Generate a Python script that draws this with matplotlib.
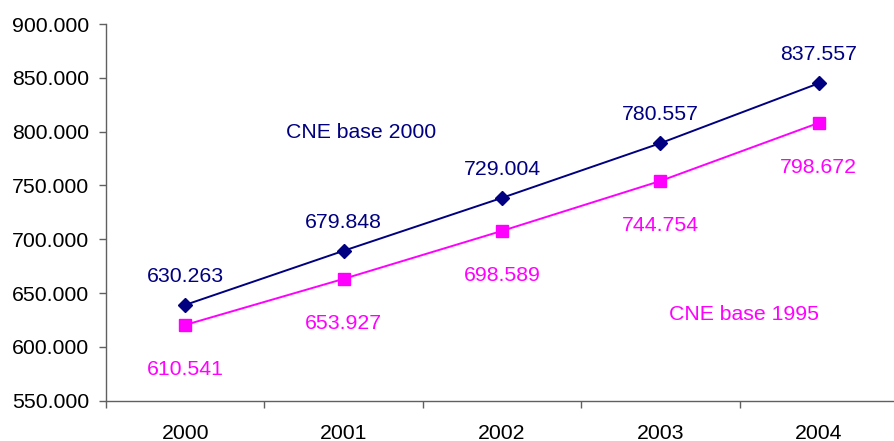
import matplotlib.pyplot as plt
from matplotlib.ticker import FixedLocator, FormatStrFormatter

# --- data ---
years = ['2000', '2001', '2002', '2003', '2004']
# plotted positions
cne_2000 = [639.0, 689.3, 738.5, 789.3, 845.0]
cne_1995 = [620.4, 663.2, 707.8, 754.2, 808.2]
# values printed as data labels
labels_2000 = ['630.263', '679.848', '729.004', '780.557', '837.557']
labels_1995 = ['610.541', '653.927', '698.589', '744.754', '798.672']

navy = '#000080'
magenta = '#FF00FF'
fs = 15.3

plt.rcParams['font.family'] = ['Liberation Sans', 'DejaVu Sans']

fig = plt.figure(figsize=(8.95, 4.41), dpi=100)
ax = fig.add_axes([0.1184, 0.0914, 0.885, 0.854])

x = list(range(len(years)))
ax.plot(x, cne_2000, color=navy, lw=1.4, marker='D', ms=7.5, zorder=3, clip_on=False)
ax.plot(x, cne_1995, color=magenta, lw=1.4, marker='s', ms=9, zorder=3, clip_on=False)

for xi, yi, t in zip(x, cne_2000, labels_2000):
    ax.annotate(t, (xi, yi), xytext=(0, 20.5), textcoords='offset points',
                ha='center', va='center', color=navy, fontsize=fs)
for xi, yi, t in zip(x, cne_1995, labels_1995):
    ax.annotate(t, (xi, yi), xytext=(0, -32), textcoords='offset points',
                ha='center', va='center', color=magenta, fontsize=fs)

ax.text(1.11, 799.0, 'CNE base 2000', color=navy, fontsize=fs, ha='center', va='center')
ax.text(3.53, 630.5, 'CNE base 1995', color=magenta, fontsize=fs, ha='center', va='center')

ax.set_xlim(-0.5, len(years) - 0.5)
ax.set_ylim(550, 900)
ax.yaxis.set_major_locator(FixedLocator([550, 600, 650, 700, 750, 800, 850, 900]))
ax.yaxis.set_major_formatter(FormatStrFormatter('%.3f'))
ax.set_xticks(x)
ax.set_xticklabels(years)
ax.set_xticks([i - 0.5 for i in range(len(years) + 1)], minor=True)

for s in ['top', 'right']:
    ax.spines[s].set_visible(False)
for s in ['left', 'bottom']:
    ax.spines[s].set_color('#606060')
    ax.spines[s].set_linewidth(1.0)

ax.tick_params(axis='y', direction='out', length=5, width=1, color='#606060',
               labelsize=fs, pad=7)
ax.tick_params(axis='x', which='major', length=0, labelsize=fs, pad=16.5)
ax.tick_params(axis='x', which='minor', direction='out', length=5, width=1, color='#606060')

fig.savefig('out.png', dpi=100)
